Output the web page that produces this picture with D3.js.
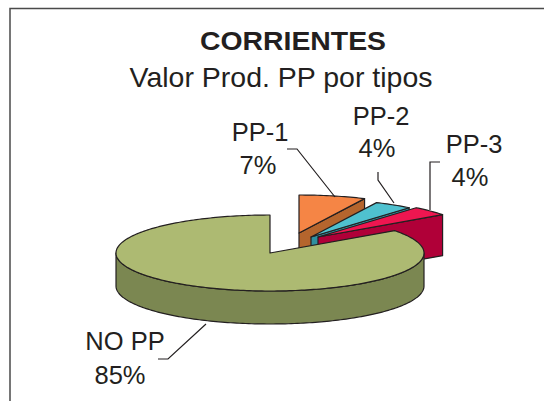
<!DOCTYPE html>
<html lang="en">

<head>
    <meta charset="UTF-8">
    <title>Corrientes</title>
    <script src="https://d3js.org/d3.v7.min.js"></script>
    <style>
        body {
            margin: 0;
            padding: 0;
            background-color: #fff;
        }

        svg {
            display: block;
        }

        text {
            font-family: 'Liberation Sans', Arial, sans-serif;
            fill: #231f20;
        }
    </style>
</head>

<body>
<div id="chart"></div>
<script>
    const categories = ["PP-1", "PP-2", "PP-3", "NO PP"];
    const values = [7, 4, 4, 85];
    const valueLabels = ["7%", "4%", "4%", "85%"];
    const title = "CORRIENTES";
    const subtitle = "Valor Prod. PP por tipos";
    const topColors = ["#f58545", "#4fc1cf", "#ee1650", "#adba72"];
    const sideColors = ["#b5652d", "#2f8f9f", "#b00038", "#7b8751"];

    const width = 544;
    const height = 401;
    const rx = 154;
    const ry = 38;

    // each slice is pulled out by hand, like in the original
    const layout = [
        {cx: 299, cy: 233, depth: 33, nameAt: [260, 141], valueAt: [258, 174],
            leader: [[287, 149], [297, 149], [335, 197]]},
        {cx: 311, cy: 237, depth: 33, nameAt: [381, 125], valueAt: [377, 157],
            leader: [[378, 172], [378, 180], [394, 203]]},
        {cx: 318, cy: 237, depth: 41, nameAt: [474, 153], valueAt: [470, 186],
            leader: [[440, 162], [430, 162], [430, 210]]},
        {cx: 270, cy: 253, depth: 33, nameAt: [125, 350], valueAt: [120, 384],
            leader: [[158, 359], [168, 359], [206, 324]]}
    ];

    const svg = d3.select("#chart")
        .append("svg")
        .attr("width", width)
        .attr("height", height);

    // chart frame, no right or bottom side
    svg.append("path")
        .attr("d", d3.line()([[10, height], [10, 8.5], [width, 8.5]]))
        .attr("fill", "none")
        .attr("stroke", "#4a4a4a")
        .attr("stroke-width", 1.5);

    svg.append("text")
        .attr("x", 293)
        .attr("y", 50)
        .attr("text-anchor", "middle")
        .attr("font-size", 26.5)
        .attr("font-weight", "bold")
        .attr("textLength", 186)
        .attr("lengthAdjust", "spacingAndGlyphs")
        .text(title);

    svg.append("text")
        .attr("x", 281)
        .attr("y", 87)
        .attr("text-anchor", "middle")
        .attr("font-size", 28)
        .attr("textLength", 303)
        .attr("lengthAdjust", "spacingAndGlyphs")
        .text(subtitle);

    const slices = d3.pie().sort(null)(values);
    const line = d3.line();

    function rim(d, a) {
        return [d.cx + rx * Math.sin(a), d.cy - ry * Math.cos(a)];
    }

    function arcPoints(d, a0, a1) {
        const n = Math.max(2, Math.ceil(Math.abs(a1 - a0) / 0.02));
        return d3.range(n + 1).map(i => rim(d, a0 + (a1 - a0) * i / n));
    }

    function drop(points, depth) {
        return points.map(p => [p[0], p[1] + depth]);
    }

    const pieGroup = svg.append("g")
        .attr("stroke", "#231f20")
        .attr("stroke-width", 1.2)
        .attr("stroke-linejoin", "round");

    slices.forEach(function (s, i) {
        const d = layout[i];
        const apex = [d.cx, d.cy];
        const end = rim(d, s.endAngle);

        // cut face that looks to the front
        if (s.endAngle < Math.PI) {
            const face = [apex, end];
            pieGroup.append("path")
                .attr("d", line(face.concat(drop(face, d.depth).reverse())) + "Z")
                .attr("fill", sideColors[i]);
        }

        // outer wall, only the front half of the ellipse shows
        const from = Math.max(s.startAngle, Math.PI / 2);
        const to = Math.min(s.endAngle, Math.PI * 1.5);
        if (to > from) {
            const wall = arcPoints(d, from, to);
            pieGroup.append("path")
                .attr("d", line(wall.concat(drop(wall, d.depth).reverse())) + "Z")
                .attr("fill", sideColors[i]);
        }

        pieGroup.append("path")
            .attr("d", line([apex].concat(arcPoints(d, s.startAngle, s.endAngle))) + "Z")
            .attr("fill", topColors[i]);
    });

    layout.forEach(function (d, i) {
        svg.append("path")
            .attr("d", line(d.leader))
            .attr("fill", "none")
            .attr("stroke", "#231f20")
            .attr("stroke-width", 1.2);

        svg.append("text")
            .attr("x", d.nameAt[0])
            .attr("y", d.nameAt[1])
            .attr("text-anchor", "middle")
            .attr("font-size", 25.5)
            .text(categories[i]);

        svg.append("text")
            .attr("x", d.valueAt[0])
            .attr("y", d.valueAt[1])
            .attr("text-anchor", "middle")
            .attr("font-size", 25.5)
            .text(valueLabels[i]);
    });
</script>
</body>

</html>
